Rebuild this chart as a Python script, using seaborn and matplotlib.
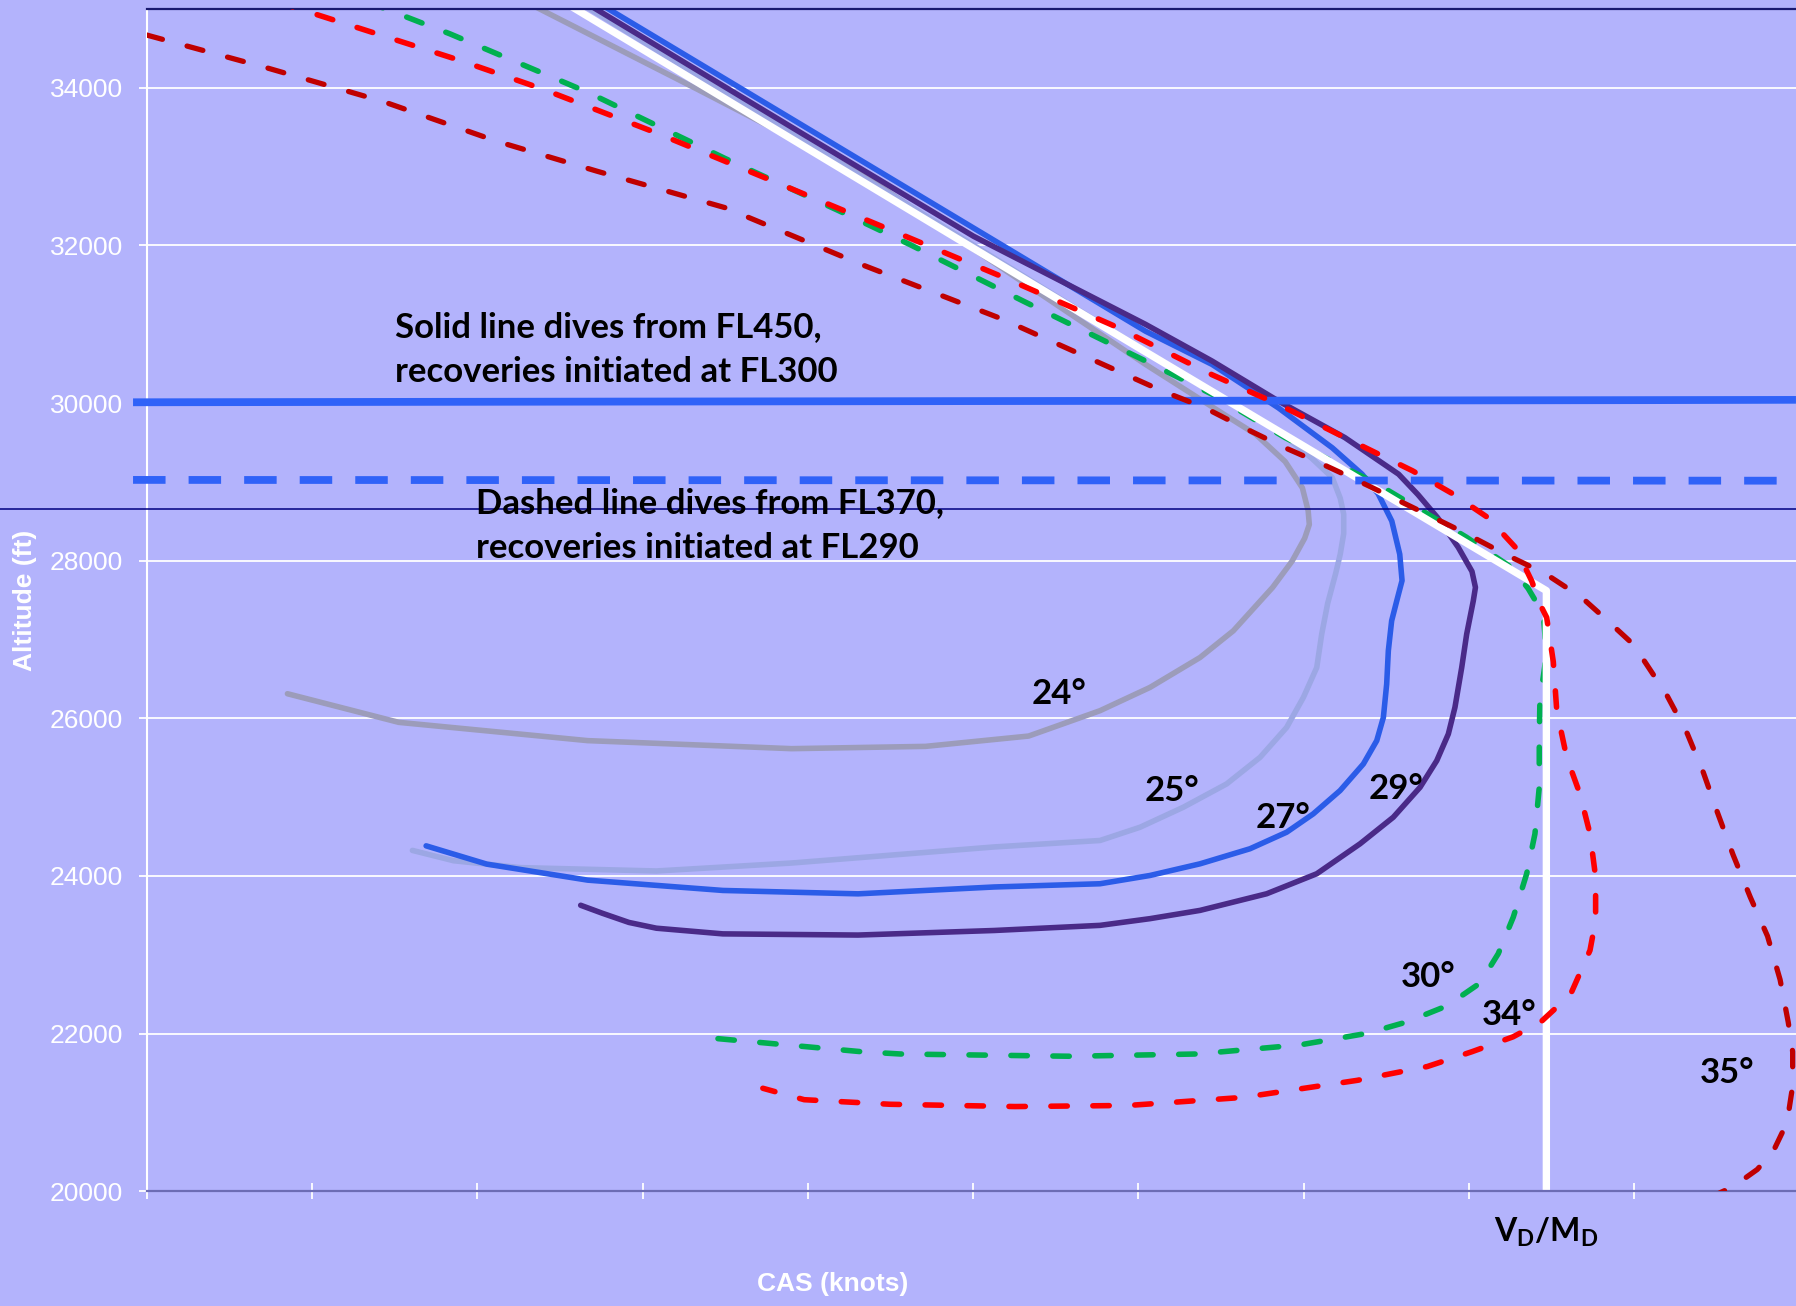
import matplotlib
matplotlib.use("Agg")
import matplotlib.pyplot as plt
import seaborn as sns

# ---------------------------------------------------------------------------
# Dive / recovery trajectories: CAS (in tick intervals) against altitude (ft)
# ---------------------------------------------------------------------------
cas_24 = [2.294, 3.326, 4.331, 6.043, 6.521, 6.708, 6.888, 6.992, 7.027, 7.034,
          7.006, 6.930, 6.812, 6.574, 6.373, 6.070, 5.768, 5.336, 4.712,
          3.902, 2.668, 1.525, 0.852]
alt_24 = [35090, 33988, 32899, 30491, 29852, 29606, 29257, 28924, 28633, 28459,
          28285, 27995, 27661, 27110, 26772, 26392, 26097, 25775, 25644,
          25615, 25717, 25949, 26312]

cas_25 = [2.613, 6.341, 6.847, 7.048, 7.173, 7.221, 7.242, 7.242, 7.221, 7.193,
          7.145, 7.109, 7.079, 6.998, 6.897, 6.736, 6.534, 6.272, 6.010, 5.768,
          5.128, 3.902, 3.084, 2.259, 1.857, 1.608]
alt_25 = [35090, 30273, 29649, 29301, 29054, 28793, 28590, 28343, 28082, 27835,
          27458, 27069, 26645, 26265, 25885, 25505, 25168, 24872, 24618, 24450,
          24368, 24164, 24063, 24106, 24193, 24324]

cas_27 = [2.723, 6.043, 6.445, 6.847, 7.173, 7.353, 7.450, 7.533, 7.581, 7.595,
          7.563, 7.532, 7.512, 7.502, 7.482, 7.442, 7.361, 7.220, 7.058, 6.897,
          6.675, 6.373, 6.070, 5.768, 5.128, 4.304, 3.486, 2.668, 2.058, 1.691]
alt_27 = [35090, 30912, 30491, 29939, 29432, 29098, 28851, 28503, 28082, 27748,
          27491, 27237, 26857, 26435, 26012, 25717, 25421, 25083, 24788, 24555,
          24345, 24154, 24006, 23901, 23860, 23773, 23816, 23947, 24150, 24382]

cas_29 = [2.647, 3.964, 5.003, 6.043, 6.445, 6.847, 7.249, 7.574, 7.692, 7.810,
          7.935, 8.018, 8.039, 8.026, 7.986, 7.956, 7.915, 7.875, 7.805, 7.704,
          7.542, 7.341, 7.079, 6.776, 6.373, 6.070, 5.768, 5.128, 4.304, 3.486,
          3.084, 2.918, 2.758, 2.626]
alt_29 = [35090, 33422, 32116, 30999, 30534, 30026, 29562, 29098, 28837, 28546,
          28169, 27864, 27661, 27491, 27069, 26645, 26139, 25801, 25463, 25125,
          24745, 24408, 24028, 23774, 23563, 23458, 23373, 23308, 23250, 23265,
          23337, 23410, 23526, 23628]

cas_30 = [1.337, 1.836, 2.668, 3.500, 4.193, 4.615, 5.308, 6.043, 6.445, 6.888,
          7.450, 7.983, 8.261, 8.358, 8.450, 8.468, 8.429, 8.425, 8.425, 8.399,
          8.349, 8.268, 8.177, 8.067, 7.866, 7.623, 7.380, 6.979, 6.355, 5.593,
          4.560, 4.324, 3.333]
alt_30 = [35090, 34684, 33944, 33103, 32435, 32014, 31289, 30534, 30113, 29562,
          28967, 28300, 27908, 27647, 27322, 26805, 26223, 25717, 25125, 24535,
          24028, 23478, 23014, 22641, 22351, 22147, 22002, 21857, 21741, 21712,
          21741, 21770, 21959]

cas_34 = [0.790, 1.892, 2.391, 3.091, 3.777, 4.477, 5.170, 5.863, 6.445, 6.847,
          7.249, 7.658, 7.900, 8.115, 8.281, 8.378, 8.441, 8.470, 8.510, 8.531,
          8.591, 8.671, 8.732, 8.766, 8.766, 8.732, 8.614, 8.434, 8.267, 8.018,
          7.748, 7.325, 6.632, 5.939, 5.253, 4.498, 3.978, 3.728]
alt_34 = [35090, 34350, 33988, 33422, 32827, 32217, 31608, 30970, 30360, 29983,
          29562, 29141, 28851, 28546, 28169, 27748, 27400, 27279, 26718, 26097,
          25505, 25041, 24535, 23985, 23436, 23056, 22496, 22147, 21959, 21770,
          21582, 21407, 21190, 21088, 21074, 21103, 21161, 21306]

cas_35 = [0.000, 0.735, 1.428, 2.121, 2.723, 3.500, 4.331, 5.170, 6.140, 6.403,
          6.646, 6.888, 7.110, 7.332, 7.956, 8.219, 8.462, 8.683, 8.822, 8.995,
          9.196, 9.321, 9.418, 9.501, 9.598, 9.702, 9.806, 9.882, 9.931, 9.958,
          9.958, 9.924, 9.841, 9.744, 9.598, 9.480]
alt_35 = [34670, 34249, 33828, 33320, 32943, 32479, 31753, 31071, 30157, 29939,
          29678, 29432, 29228, 29011, 28372, 28082, 27835, 27531, 27270, 26936,
          26297, 25804, 25311, 24817, 24266, 23729, 23236, 22684, 22147, 21770,
          21335, 20871, 20508, 20276, 20058, 19942]

# VD/MD boundary
cas_vd = [2.50, 6.043, 8.468, 8.468]
alt_vd = [35120, 30650, 27620, 20000]

# Recovery initiation altitudes
cas_rec = [-0.082, 9.978]
alt_rec_fl300 = [30010, 30040]
alt_rec_fl290 = [29025, 29015]
alt_marker = 28652

curve_labels = ["24°", "25°", "27°", "29°", "30°", "34°", "35°"]
label_cas = [5.523, 6.202, 6.875, 7.561, 7.755, 8.240, 9.563]
label_alt = [26181, 24948, 24614, 24977, 22597, 22104, 21378]

alt_ticks = list(range(20000, 34001, 2000))
cas_ticks = list(range(0, 10))

# ---------------------------------------------------------------------------
BG = "#B3B3FC"
sns.set_style("white", {"axes.facecolor": BG, "figure.facecolor": BG})
plt.rcParams["font.family"] = ["Liberation Sans", "DejaVu Sans"]
plt.rcParams["lines.scale_dashes"] = False
plt.rcParams["mathtext.fontset"] = "custom"
plt.rcParams["mathtext.rm"] = "Lato"
plt.rcParams["mathtext.bf"] = "Lato:bold"

W, H = 1796, 1306
fig = plt.figure(figsize=(W / 100, H / 100), dpi=100)
fig.patch.set_facecolor(BG)
left_px, bottom_px, top_px = 146.6, 1191.2, 9.0
ax = fig.add_axes([left_px / W, 1 - bottom_px / H, 1 - left_px / W,
                   (bottom_px - top_px) / H])
ax.set_facecolor(BG)

short_dash = (0, (11.8, 18.4))

series = [
    (cas_24, alt_24, "#9C9CBA", 4.0, "-", 2.0),
    (cas_25, alt_25, "#9CA7E4", 4.0, "-", 2.1),
    (cas_27, alt_27, "#2B5CE8", 4.0, "-", 2.2),
    (cas_29, alt_29, "#4A2A88", 4.0, "-", 2.3),
    (cas_30, alt_30, "#00B050", 4.0, short_dash, 2.4),
    (cas_vd, alt_vd, "#FFFFFF", 5.3, "-", 2.5),
    (cas_34, alt_34, "#FF0000", 4.0, short_dash, 2.7),
    (cas_35, alt_35, "#C00000", 3.8, short_dash, 2.8),
]
for xs, ys, col, lw, ls, z in series:
    sns.lineplot(x=xs, y=ys, sort=False, estimator=None, ax=ax, color=col,
                 linewidth=lw, linestyle=ls, zorder=z,
                 solid_capstyle="round", dash_capstyle="round",
                 solid_joinstyle="round")

sns.lineplot(x=cas_rec, y=alt_rec_fl300, sort=False, estimator=None, ax=ax,
             color="#3062F8", linewidth=5.6, zorder=2.55, clip_on=False,
             solid_capstyle="butt")
sns.lineplot(x=cas_rec, y=alt_rec_fl290, sort=False, estimator=None, ax=ax,
             color="#3062F8", linewidth=5.6, zorder=2.55, clip_on=False,
             linestyle=(0, (23.4, 16.6)), dash_capstyle="butt")
ax.axhline(alt_marker, xmin=-left_px / (W - left_px), xmax=1, clip_on=False,
           color="#000080", linewidth=1.1, zorder=2.56)

ax.set_xlim(0, (W - left_px) / 165.3)
ax.set_ylim(20000, 35000)

ax.set_yticks(alt_ticks)
ax.set_xticks(cas_ticks)
ax.set_xticklabels([])
ax.tick_params(axis="y", which="major", left=True, direction="out", length=6,
               width=1.3, color="white", labelcolor="white", labelsize=19,
               pad=11)
ax.tick_params(axis="x", which="major", bottom=True, direction="inout",
               length=12, width=1.3, color="white", labelbottom=False)
ax.yaxis.grid(True, color="white", linewidth=1.3)
ax.xaxis.grid(False)
ax.set_axisbelow(True)
ax.set_xlabel("")
ax.set_ylabel("")

ax.spines["right"].set_visible(False)
ax.spines["top"].set_color("#1A1A70")
ax.spines["top"].set_linewidth(1.6)
ax.spines["left"].set_color("white")
ax.spines["left"].set_linewidth(1.5)
ax.spines["bottom"].set_color("#6C6CB4")
ax.spines["bottom"].set_linewidth(1.6)

note_font = dict(family=["Lato", "DejaVu Sans"], fontweight="bold",
                 color="black", fontsize=25, zorder=3)
ax.text(1.503, 30839, "Solid line dives from FL450,", va="baseline", **note_font)
ax.text(1.503, 30269, "recoveries initiated at FL300", va="baseline", **note_font)
ax.text(1.993, 28609, "Dashed line dives from FL370,", va="baseline", **note_font)
ax.text(1.993, 28039, "recoveries initiated at FL290", va="baseline", **note_font)

for lab, cx, ay in zip(curve_labels, label_cas, label_alt):
    ax.text(cx, ay, lab, ha="center", va="baseline", **note_font)

ax.text(8.468, 19356, r"$\mathbf{V_D/M_D}$", ha="center", va="baseline",
        fontsize=23, color="black", clip_on=False)

fig.text(833 / W, 1 - 1284 / H, "CAS (knots)", ha="center", va="center",
         color="white", fontweight="bold", fontsize=19)
fig.text(25 / W, 1 - 600 / H, "Altitude (ft)", ha="center", va="center",
         rotation=90, color="white", fontweight="bold", fontsize=19)

fig.savefig("out.png", dpi=100, facecolor=BG)
